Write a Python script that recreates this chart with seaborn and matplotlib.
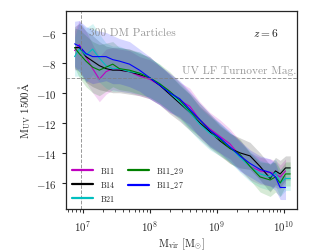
import numpy as np
import pandas as pd
import matplotlib
matplotlib.use("Agg")
import matplotlib.pyplot as plt
import seaborn as sns

# log10 halo mass bins
log_mvir = [6.88, 6.95, 7.05, 7.15, 7.25, 7.35, 7.45, 7.55, 7.7, 7.85, 8.0, 8.15, 8.3, 8.45,
            8.6, 8.75, 8.9, 9.05, 9.2, 9.35, 9.5, 9.65, 9.8, 9.88, 9.95, 10.03, 10.1]
nan = np.nan

muv_b11 = [-7.2, -6.8, -7.6, -8.4, -9.1, -8.6, -8.4, -8.5, -8.6, -8.9, -9.1, -9.5, -10.0, -10.5,
           -10.9, -11.8, -12.4, -12.9, -13.4, -14.2, -14.9, -15.2, -15.3, -15.4, -15.6, -15.2, nan]
muv_b14 = [-7.0, -7.0, -7.6, -7.9, -8.2, -8.4, -8.5, -8.5, -8.6, -8.8, -9.0, -9.5, -10.1, -10.7,
           -11.3, -12.0, -12.6, -13.2, -13.7, -14.0, -14.2, -14.9, -15.7, -15.2, -15.4, -15.0, -15.0]
muv_b21 = [-7.6, -7.1, -7.5, -7.1, -7.7, -8.2, -8.4, -8.4, -8.6, -8.7, -9.0, -9.4, -10.0, -10.6,
           -11.3, -12.1, -12.7, -13.1, -13.6, -14.3, -14.9, -15.4, -15.6, -15.3, -16.0, -15.7, -15.7]
muv_b11_29 = [-7.0, -7.4, -7.9, -8.3, -8.5, -8.3, -8.1, -8.4, -8.5, -8.7, -9.0, -9.4, -9.9, -10.5,
              -11.2, -11.8, -12.5, -13.1, -13.7, -14.1, -14.9, -15.6, -15.8, -15.6, -16.0, -15.4, -15.4]
muv_b11_27 = [-6.75, -6.9, -7.4, -7.6, -7.6, -7.6, -7.8, -7.9, -8.1, -8.5, -9.0, -9.5, -10.0, -10.4,
              -11.1, -11.8, -12.5, -13.0, -13.6, -14.2, -14.7, -15.1, -15.3, -15.6, -16.3, -16.3, nan]

# half-width of the shaded scatter band
spread_b11 = [1.3, 1.6, 1.7, 1.6, 1.5, 1.5, 1.4, 1.4, 1.4, 1.3, 1.3, 1.3, 1.3, 1.2,
              1.2, 1.2, 1.1, 1.1, 1.0, 1.0, 0.9, 0.9, 0.9, 0.9, 0.8, 0.8, nan]
spread_b14 = [1.4, 1.6, 1.7, 1.7, 1.6, 1.5, 1.5, 1.5, 1.5, 1.4, 1.4, 1.3, 1.3, 1.2,
              1.2, 1.1, 1.1, 1.0, 1.0, 1.0, 0.9, 0.9, 0.9, 0.9, 0.9, 0.8, 0.8]
spread_b21 = [1.3, 1.8, 1.8, 1.7, 1.6, 1.5, 1.5, 1.5, 1.4, 1.4, 1.3, 1.3, 1.2, 1.2,
              1.2, 1.1, 1.1, 1.1, 1.0, 1.0, 1.0, 0.9, 0.9, 0.9, 0.9, 0.8, 0.8]
spread_b11_29 = [1.3, 1.6, 1.7, 1.7, 1.7, 1.6, 1.5, 1.4, 1.4, 1.4, 1.3, 1.3, 1.3, 1.2,
                 1.2, 1.1, 1.1, 1.0, 1.0, 1.0, 0.9, 1.0, 1.1, 1.0, 0.9, 0.8, 0.8]
spread_b11_27 = [1.5, 1.7, 1.8, 1.8, 1.7, 1.6, 1.6, 1.5, 1.5, 1.4, 1.4, 1.3, 1.3, 1.2,
                 1.2, 1.1, 1.1, 1.0, 1.0, 1.0, 0.9, 0.9, 0.9, 0.9, 0.8, 0.8, nan]

labels = ["B11", "B14", "B21", "B11_29", "B11_27"]
legend_text = [r"$\mathrm{B11}$", r"$\mathrm{B14}$", r"$\mathrm{B21}$",
               r"$\mathrm{B11\_29}$", r"$\mathrm{B11\_27}$"]
colors = ["m", "k", "c", "g", "b"]
series = [muv_b11, muv_b14, muv_b21, muv_b11_29, muv_b11_27]
spreads = [spread_b11, spread_b14, spread_b21, spread_b11_29, spread_b11_27]

sns.set_style("ticks")
plt.rcParams["font.family"] = "serif"
plt.rcParams["font.serif"] = ["cmr10", "DejaVu Serif"]
plt.rcParams["mathtext.fontset"] = "cm"
plt.rcParams["axes.formatter.use_mathtext"] = True
plt.rcParams["axes.unicode_minus"] = True

mvir = 10 ** np.array(log_mvir)
rows = []
for lab, vals in zip(labels, series):
    for m, v in zip(mvir, vals):
        rows.append({"mvir": m, "muv": v, "run": lab})
df = pd.DataFrame(rows).dropna()

fig = plt.figure(figsize=(3.31, 2.53), dpi=100)
ax = fig.add_axes([0.199, 0.170, 0.698, 0.783])

for vals, sp, col in zip(series, spreads, colors):
    v = np.array(vals)
    s = np.array(sp)
    ax.fill_between(mvir, v - s, v + s, color=col, alpha=0.16, lw=0)

sns.lineplot(data=df, x="mvir", y="muv", hue="run", hue_order=labels,
             palette=dict(zip(labels, colors)), lw=0.8, ax=ax, estimator=None, sort=True)

ax.set_xscale("log")
ax.set_xlim(10 ** 6.75, 10 ** 10.2)
ax.set_ylim(-17.73, -4.56)
ax.set_yticks([-16, -14, -12, -10, -8, -6])

ax.axvline(10 ** 6.975, color="gray", ls="--", lw=0.7, alpha=0.8)
ax.axhline(-9, color="gray", ls="--", lw=0.7, alpha=0.8)
ax.text(10 ** 7.1, -5.95, "300 DM Particles", color="gray", alpha=0.8, fontsize=8.2, va="center")
ax.text(10 ** 10.19, -8.5, "UV LF Turnover Mag.", color="gray", alpha=0.8, fontsize=8.2,
        ha="right", va="center")
ax.text(10 ** 9.92, -5.95, r"$z = 6$", fontsize=8.2, ha="right", va="center")

ax.set_xlabel(r"$\mathrm{M_{vir}}\ [\mathrm{M_{\odot}}]$", fontsize=7.8, labelpad=2)
ax.set_ylabel(r"$\mathrm{M_{UV}\ 1500\AA}$", fontsize=7.8, labelpad=2)
ax.tick_params(labelsize=7.8, width=0.8, length=3)
ax.tick_params(axis="x", which="minor", length=1.8, width=0.6)
for sp in ax.spines.values():
    sp.set_linewidth(0.9)

handles, _ = ax.get_legend_handles_labels()
leg = ax.legend(handles, legend_text, loc="lower left", ncol=2, frameon=False, fontsize=5.8,
                handlelength=2.6, columnspacing=1.6, labelspacing=0.45,
                borderaxespad=0.4)
for line in leg.get_lines():
    line.set_linewidth(1.6)

fig.savefig("out.png", dpi=100)
